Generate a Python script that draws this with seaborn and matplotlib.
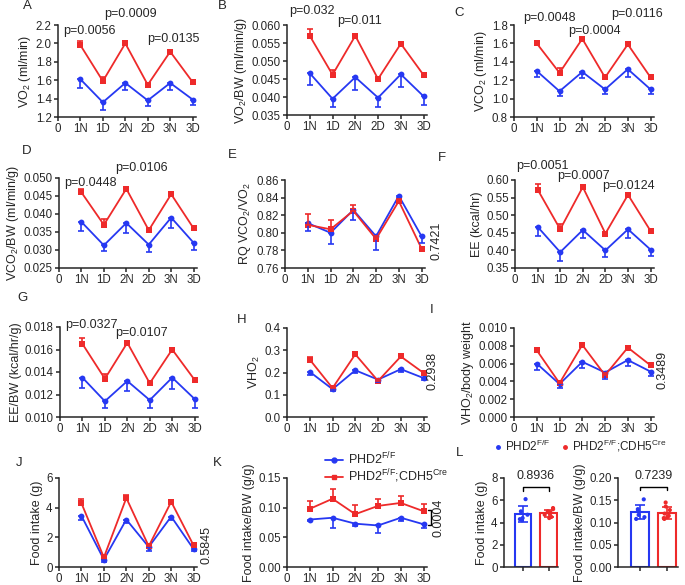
import numpy as np
import pandas as pd
import matplotlib
matplotlib.use("Agg")
import matplotlib.pyplot as plt
import seaborn as sns
from matplotlib.ticker import FormatStrFormatter, MultipleLocator
from matplotlib.lines import Line2D

W, H = 685, 585
BLUE = "#2638f2"
RED = "#ee2a2a"

phases = ["0", "1N", "1D", "2N", "2D", "3N", "3D"]
groups = ["PHD2$^{F/F}$", "PHD2$^{F/F}$;CDH5$^{Cre}$"]

# means; ctrl error bars drawn downward, KO error bars upward
vo2_ctrl = [1.61, 1.36, 1.57, 1.38, 1.57, 1.39]
vo2_ctrl_err = [0.09, 0.08, 0.08, 0.06, 0.08, 0.06]
vo2_ko = [1.98, 1.59, 2.00, 1.55, 1.91, 1.58]
vo2_ko_err = [0.05, 0.04, 0.015, 0.01, 0.02, 0.01]

vo2bw_ctrl = [0.0466, 0.0395, 0.0455, 0.0398, 0.0463, 0.0402]
vo2bw_ctrl_err = [0.0033, 0.0023, 0.0035, 0.0026, 0.0035, 0.0024]
vo2bw_ko = [0.0570, 0.0462, 0.0570, 0.0450, 0.0548, 0.0461]
vo2bw_ko_err = [0.0018, 0.0012, 0.0004, 0.0002, 0.0004, 0.0003]

vco2_ctrl = [1.30, 1.08, 1.29, 1.10, 1.32, 1.10]
vco2_ctrl_err = [0.07, 0.05, 0.07, 0.05, 0.08, 0.05]
vco2_ko = [1.60, 1.28, 1.65, 1.23, 1.59, 1.23]
vco2_ko_err = [0.03, 0.05, 0.01, 0.01, 0.01, 0.01]

vco2bw_ctrl = [0.0378, 0.0313, 0.0375, 0.0315, 0.0390, 0.0320]
vco2bw_ctrl_err = [0.0026, 0.0015, 0.0027, 0.0020, 0.0030, 0.0020]
vco2bw_ko = [0.0460, 0.0370, 0.0470, 0.0355, 0.0455, 0.0360]
vco2bw_ko_err = [0.0010, 0.0017, 0.0003, 0.0003, 0.0003, 0.0003]

rq_ctrl = [0.811, 0.800, 0.826, 0.796, 0.842, 0.796]
rq_ctrl_err = [0.009, 0.013, 0.012, 0.015, 0.002, 0.008]
rq_ko = [0.809, 0.804, 0.825, 0.793, 0.836, 0.782]
rq_ko_err = [0.012, 0.011, 0.007, 0.003, 0.002, 0.002]

ee_ctrl = [0.467, 0.395, 0.458, 0.400, 0.460, 0.402]
ee_ctrl_err = [0.027, 0.025, 0.023, 0.020, 0.025, 0.019]
ee_ko = [0.573, 0.460, 0.580, 0.448, 0.558, 0.455]
ee_ko_err = [0.015, 0.015, 0.004, 0.003, 0.004, 0.003]

eebw_ctrl = [0.0135, 0.0114, 0.0132, 0.0115, 0.0135, 0.0116]
eebw_ctrl_err = [0.0009, 0.0006, 0.0009, 0.0007, 0.0010, 0.0008]
eebw_ko = [0.0165, 0.0134, 0.0166, 0.0130, 0.0160, 0.0133]
eebw_ko_err = [0.0005, 0.0004, 0.0001, 0.0001, 0.0001, 0.0001]

vho2_ctrl = [0.203, 0.125, 0.210, 0.168, 0.215, 0.175]
vho2_ctrl_err = [0.012, 0.010, 0.012, 0.010, 0.012, 0.010]
vho2_ko = [0.258, 0.130, 0.282, 0.162, 0.272, 0.198]
vho2_ko_err = [0.010, 0.004, 0.004, 0.008, 0.006, 0.005]

vho2bw_ctrl = [0.0060, 0.0037, 0.0062, 0.0050, 0.0064, 0.0051]
vho2bw_ctrl_err = [0.0007, 0.0004, 0.0007, 0.0007, 0.0007, 0.0005]
vho2bw_ko = [0.0075, 0.0038, 0.0081, 0.0047, 0.0078, 0.0058]
vho2bw_ko_err = [0.0003, 0.0002, 0.0002, 0.0002, 0.0002, 0.0002]

food_ctrl = [3.45, 0.50, 3.20, 1.35, 3.40, 1.20]
food_ctrl_err = [0.30, 0.15, 0.20, 0.25, 0.20, 0.15]
food_ko = [4.30, 0.65, 4.65, 1.40, 4.40, 1.45]
food_ko_err = [0.30, 0.05, 0.20, 0.10, 0.15, 0.10]

foodbw_ctrl = [0.080, 0.083, 0.073, 0.070, 0.083, 0.072]
foodbw_ctrl_err = [0.003, 0.017, 0.004, 0.012, 0.005, 0.007]
foodbw_ko = [0.098, 0.115, 0.089, 0.103, 0.108, 0.094]
foodbw_ko_err = [0.013, 0.017, 0.015, 0.012, 0.011, 0.013]

# panel L individual animals
l_food_ctrl = [6.1, 5.0, 4.7, 4.4, 4.3, 4.2]
l_food_ko = [5.3, 5.2, 5.0, 4.9, 4.7, 4.5, 4.4, 4.8]
l_foodbw_ctrl = [0.152, 0.130, 0.125, 0.112, 0.108, 0.117]
l_foodbw_ko = [0.145, 0.136, 0.128, 0.120, 0.110, 0.108, 0.112, 0.115]

sns.set_style("ticks")
plt.rcParams["font.family"] = ["Liberation Sans", "DejaVu Sans"]
plt.rcParams["mathtext.default"] = "regular"
plt.rcParams["axes.linewidth"] = 1.1
plt.rcParams["xtick.major.width"] = 1.1
plt.rcParams["ytick.major.width"] = 1.1
plt.rcParams["xtick.major.size"] = 3
plt.rcParams["ytick.major.size"] = 3
plt.rcParams["xtick.labelsize"] = 8.3
plt.rcParams["ytick.labelsize"] = 8.3

fig = plt.figure(figsize=(W / 100, H / 100), dpi=100)


def rect(l, t, r, b):
    return [l / W, 1 - b / H, (r - l) / W, (b - t) / H]


def ftext(x, y, s, **kw):
    fig.text(x / W, 1 - y / H, s, **kw)


def style_ax(ax, ylabel, ylim, step, fmt):
    sns.despine(ax=ax)
    ax.set_ylim(*ylim)
    ax.yaxis.set_major_locator(MultipleLocator(step))
    ax.yaxis.set_major_formatter(FormatStrFormatter(fmt))
    ax.set_ylabel(ylabel, fontsize=9, labelpad=2)
    ax.tick_params(axis="y", pad=1.5)
    ax.tick_params(axis="x", pad=1)


def time_panel(box, ctrl, ctrl_err, ko, ko_err, ylabel, ylim, step, fmt, ptexts=()):
    ax = fig.add_axes(rect(*box))
    pos = np.arange(1, len(phases))
    df = pd.DataFrame({
        "pos": np.concatenate([pos, pos]),
        "val": ctrl + ko,
        "group": [groups[0]] * len(ctrl) + [groups[1]] * len(ko),
    })
    sns.lineplot(data=df, x="pos", y="val", hue="group", style="group",
                 hue_order=groups, style_order=groups, palette=[BLUE, RED],
                 markers=["o", "s"], dashes=False, markersize=4.2,
                 markeredgewidth=0, linewidth=1.3, legend=False, ax=ax)
    z = np.zeros(len(pos))
    ax.errorbar(pos, ctrl, yerr=[ctrl_err, z], fmt="none", ecolor=BLUE,
                elinewidth=1.2, capsize=2.5, capthick=1.2)
    ax.errorbar(pos, ko, yerr=[z, ko_err], fmt="none", ecolor=RED,
                elinewidth=1.2, capsize=2.5, capthick=1.2)
    ax.set_xlim(0, 6.15)
    ax.set_xticks(range(len(phases)))
    ax.set_xticklabels(phases)
    ax.set_xlabel("")
    style_ax(ax, ylabel, ylim, step, fmt)
    for x, y, s in ptexts:
        ax.text(x, y, s, ha="center", va="center", fontsize=9, clip_on=False)
    return ax


time_panel((58, 25, 196, 117), vo2_ctrl, vo2_ctrl_err, vo2_ko, vo2_ko_err,
           "VO$_2$ (ml/min)", (1.2, 2.2), 0.2, "%.1f",
           [(1.42, 2.135, "p=0.0056"), (3.24, 2.32, "p=0.0009"), (5.16, 2.05, "p=0.0135")])
time_panel((287, 25, 427, 115), vo2bw_ctrl, vo2bw_ctrl_err, vo2bw_ko, vo2bw_ko_err,
           "VO$_2$/BW (ml/min/g)", (0.035, 0.060), 0.005, "%.3f",
           [(1.1, 0.0639, "p=0.032"), (3.17, 0.0611, "p=0.011")])
time_panel((514, 25, 654, 117), vco2_ctrl, vco2_ctrl_err, vco2_ko, vco2_ko_err,
           "VCO$_2$ (ml/min)", (0.8, 1.8), 0.2, "%.1f",
           [(1.54, 1.876, "p=0.0048"), (3.52, 1.735, "p=0.0004"), (5.42, 1.92, "p=0.0116")])

time_panel((59, 178, 197, 268), vco2bw_ctrl, vco2bw_ctrl_err, vco2bw_ko, vco2bw_ko_err,
           "VCO$_2$/BW (ml/min/g)", (0.025, 0.050), 0.005, "%.3f",
           [(1.41, 0.0486, "p=0.0448"), (3.66, 0.0528, "p=0.0106")])
time_panel((285, 180, 425, 268), rq_ctrl, rq_ctrl_err, rq_ko, rq_ko_err,
           "RQ VCO$_2$/VO$_2$", (0.76, 0.86), 0.02, "%.2f")
time_panel((515, 180, 654, 268), ee_ctrl, ee_ctrl_err, ee_ko, ee_ko_err,
           "EE (kcal/hr)", (0.35, 0.60), 0.05, "%.2f",
           [(1.2, 0.640, "p=0.0051"), (3.02, 0.611, "p=0.0007"), (5.02, 0.583, "p=0.0124")])

time_panel((60, 327, 198, 417), eebw_ctrl, eebw_ctrl_err, eebw_ko, eebw_ko_err,
           "EE/BW (kcal/hr/g)", (0.010, 0.018), 0.002, "%.3f",
           [(1.42, 0.0182, "p=0.0327"), (3.64, 0.01747, "p=0.0107")])
time_panel((287, 328, 427, 417), vho2_ctrl, vho2_ctrl_err, vho2_ko, vho2_ko_err,
           "VHO$_2$", (0.0, 0.4), 0.1, "%.1f")
time_panel((514, 328, 654, 417), vho2bw_ctrl, vho2bw_ctrl_err, vho2bw_ko, vho2bw_ko_err,
           "VHO$_2$/body weight", (0.0, 0.010), 0.002, "%.3f")

time_panel((59, 478, 197, 567), food_ctrl, food_ctrl_err, food_ko, food_ko_err,
           "Food intake (g)", (0, 6), 2, "%d")
time_panel((287, 478, 427, 567), foodbw_ctrl, foodbw_ctrl_err, foodbw_ko, foodbw_ko_err,
           "Food intake/BW (g/g)", (0.0, 0.15), 0.05, "%.2f")

# rotated p-values beside panels
for x, y, s in [(436, 241, "0.7421"), (433, 371, "0.2938"), (663, 370, "0.3489"),
                (207, 545, "0.5845"), (438, 518, "0.0004")]:
    ftext(x, y, s, rotation=90, ha="center", va="center", fontsize=9)
fig.add_artist(Line2D(np.array([428, 431, 431, 428]) / W,
                      1 - np.array([510, 510, 525, 525]) / H,
                      color="black", lw=1))

# legend of line panels
handles = [Line2D([], [], color=BLUE, marker="o", markersize=3.5, lw=1.3),
           Line2D([], [], color=RED, marker="s", markersize=3.5, lw=1.3)]
fig.legend(handles, groups, loc="upper left", bbox_to_anchor=(325 / W, 1 - 451 / H),
           frameon=False, fontsize=9, handlelength=1.4, handletextpad=0.4,
           labelspacing=0.0, borderpad=0, borderaxespad=0)


def bar_panel(box, ctrl_pts, ko_pts, ylabel, ylim, step, fmt, pval, ybr, xlim):
    ax = fig.add_axes(rect(*box))
    df = pd.DataFrame({
        "group": [groups[0]] * len(ctrl_pts) + [groups[1]] * len(ko_pts),
        "val": ctrl_pts + ko_pts,
    })
    sns.barplot(data=df, x="group", y="val", hue="group", order=groups,
                hue_order=groups, palette=[BLUE, RED], fill=False, errorbar=None,
                width=0.65, linewidth=1.5, legend=False, ax=ax)
    for i, (pts, c) in enumerate([(ctrl_pts, BLUE), (ko_pts, RED)]):
        ax.errorbar(i, np.mean(pts), yerr=np.std(pts, ddof=1), fmt="none",
                    ecolor=c, elinewidth=1.2, capsize=3.5, capthick=1.2)
    sns.stripplot(data=df, x="group", y="val", hue="group", order=groups,
                  hue_order=groups, palette=[BLUE, RED], size=3, jitter=0.18,
                  legend=False, ax=ax)
    y1, y2 = ybr
    ax.plot([0, 0, 1, 1], [y1, y2, y2, y1], color="black", lw=1, clip_on=False)
    ax.text(0.5, y2 + (ylim[1] - ylim[0]) * 0.05, pval, ha="center", va="bottom",
            fontsize=9)
    ax.set_xlim(*xlim)
    ax.set_xticks([0, 1])
    ax.set_xticklabels([])
    ax.set_xlabel("")
    style_ax(ax, ylabel, ylim, step, fmt)


bar_panel((504, 478, 558, 567), l_food_ctrl, l_food_ko, "Food intake (g)",
          (0, 8), 2, "%d", "0.8936", (6.85, 7.2), (-0.73, 1.35))
bar_panel((618, 478, 678, 567), l_foodbw_ctrl, l_foodbw_ko, "Food intake/BW (g/g)",
          (0.0, 0.20), 0.05, "%.2f", "0.7239", (0.172, 0.18), (-0.81, 1.4))

dots = [Line2D([], [], color=BLUE, marker="o", markersize=2.5, lw=0),
        Line2D([], [], color=RED, marker="o", markersize=2.5, lw=0)]
fig.legend(dots, groups, loc="upper left", bbox_to_anchor=(494 / W, 1 - 438 / H),
           ncol=2, frameon=False, fontsize=8.5, handlelength=0.6, handletextpad=0.3,
           columnspacing=1.0, borderpad=0, borderaxespad=0)

for x, y, s in [(27, 6, "A"), (222, 6, "B"), (459, 13, "C"), (27, 151, "D"),
                (232, 155, "E"), (442, 158, "F"), (22, 298, "G"), (242, 320, "H"),
                (432, 310, "I"), (19, 463, "J"), (217, 463, "K"), (460, 453, "L")]:
    ftext(x, y, s, ha="center", va="center", fontsize=9.5)

fig.savefig("out.png", dpi=100)
